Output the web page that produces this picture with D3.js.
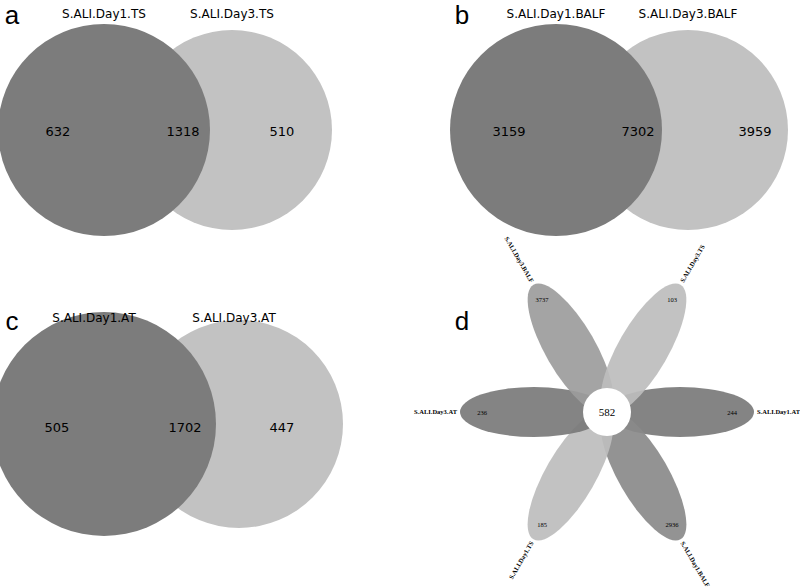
<!DOCTYPE html><html><head><script src="https://cdn.jsdelivr.net/npm/d3@7"></script>
<style>body{margin:0;background:#fff}</style></head><body><svg width="800" height="587"></svg>
<script>
const vennSets=[["S.ALI.Day1.TS","S.ALI.Day3.TS"],["S.ALI.Day1.BALF","S.ALI.Day3.BALF"],["S.ALI.Day1.AT","S.ALI.Day3.AT"]];
const vennValues=[[632,1318,510],[3159,7302,3959],[505,1702,447]];
const panelLetters=["a","b","c","d"];
const petalNames=["S.ALI.Day1.AT","S.ALI.Day1.BALF","S.ALI.Day1.TS","S.ALI.Day3.AT","S.ALI.Day3.BALF","S.ALI.Day3.TS"];
const petalValues=[244,2936,185,236,3737,103];
const coreValue=582;
const svg=d3.select("svg");
const panels=[{x:0,y:0,cy:130,r1:106,r2:100,dx:128,ly:18},{x:452,y:0,cy:130,r1:106,r2:100,dx:132,ly:18},{x:0,y:295,cy:424,r1:112,r2:104,dx:135,ly:322}];
const lx=[[58,183,282],[509,638,755],[57,185,282]];
panels.forEach((p,i)=>{
 const g=svg.append("g");
 const c1=p.x+104, c2=c1+p.dx;
 g.append("circle").attr("cx",c2).attr("cy",p.cy).attr("r",p.r2).attr("fill","#c2c2c2");
 g.append("circle").attr("cx",c1).attr("cy",p.cy).attr("r",p.r1).attr("fill","#7c7c7c");
 g.append("text").attr("x",c1+(i==2?-10:0)).attr("y",p.ly).attr("text-anchor","middle").attr("font-family","DejaVu Sans").attr("font-size",12).text(vennSets[i][0]);
 g.append("text").attr("x",c2+(i==2?-5:0)).attr("y",p.ly).attr("text-anchor","middle").attr("font-family","DejaVu Sans").attr("font-size",12).text(vennSets[i][1]);
 vennValues[i].forEach((v,j)=>g.append("text").attr("x",lx[i][j]).attr("y",p.cy+(i==2?8:6)).attr("text-anchor","middle").attr("font-family","DejaVu Sans").attr("font-size",13).text(v));
});
[[12,24],[462,24],[12,330],[462,330]].forEach((l,i)=>svg.append("text").attr("x",l[0]).attr("y",l[1]).attr("text-anchor","middle").attr("font-family","Liberation Sans").attr("font-size",26).text(panelLetters[i]));
// flower
const cx=607,cy=412;
const ang=d3.scaleOrdinal().domain(petalNames).range([0,60,120,180,240,300]);
const cols={"S.ALI.Day1.AT":"#7a7a7a","S.ALI.Day3.AT":"#7a7a7a","S.ALI.Day3.BALF":"#9c9c9c","S.ALI.Day1.BALF":"#8a8a8a","S.ALI.Day3.TS":"#bdbdbd","S.ALI.Day1.TS":"#bdbdbd"};
const fg=svg.append("g").attr("transform",`translate(${cx},${cy})`);
petalNames.forEach((n,i)=>{
 const a=ang(n), flip=a>90&&a<270;
 const pg=fg.append("g").attr("transform",`rotate(${a})`);
 pg.append("ellipse").attr("cx",73).attr("cy",0).attr("rx",74).attr("ry",25).attr("fill",cols[n]).attr("opacity",0.92);
 pg.append("text").attr("x",flip?-150:150).attr("y",2).attr("text-anchor",flip?"end":"start").attr("font-family","Liberation Serif").attr("font-size",6.5).attr("font-weight","bold")
  .attr("transform",flip?"rotate(180)":null).text(n);
});
petalNames.forEach((n,i)=>{
 const r=ang(n)*Math.PI/180, d=(ang(n)%180===0)?125:130;
 fg.append("text").attr("x",d*Math.cos(r)).attr("y",d*Math.sin(r)+2.5).attr("text-anchor","middle").attr("font-family","Liberation Serif").attr("font-size",6.5).text(petalValues[i]);
});
fg.append("circle").attr("r",24).attr("fill","#fff");
fg.append("text").attr("y",4).attr("text-anchor","middle").attr("font-family","Liberation Serif").attr("font-size",11).text(coreValue);
</script></body></html>
